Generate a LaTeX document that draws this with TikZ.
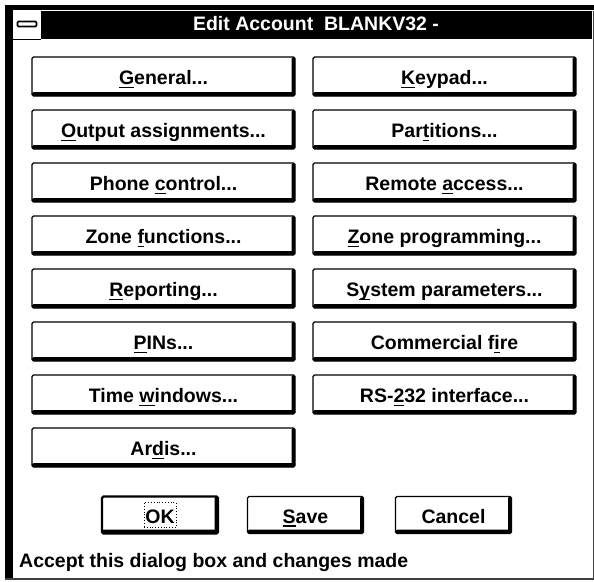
\documentclass[tikz,border=0pt]{standalone}
\usepackage{fontspec}
\setmainfont{Liberation Sans}
\usepackage{tikz}
\newcommand{\mnem}[1]{\setbox0\hbox{#1}\rlap{\rule[-3.5pt]{\wd0}{1.5pt}}#1}
\newcommand{\dlgfont}{\fontsize{19.5}{22}\selectfont\bfseries}

\begin{document}
\begin{tikzpicture}[x=1pt, y=-1pt,
    button/.style={draw, line width=1.2pt, rounded corners=1.5pt, fill=white,
        minimum width=263pt, minimum height=39pt, inner sep=0pt,
        text height=16pt, text depth=0pt, font=\dlgfont,
        path picture={
            \fill[black] (path picture bounding box.north east) ++(-3.5pt,0) rectangle (path picture bounding box.south east);
            \fill[black] (path picture bounding box.south west) ++(0,4pt) rectangle (path picture bounding box.south east);
        }},
    smallbutton/.style={button, minimum width=116pt, minimum height=37pt},
    focusbox/.style={draw, dotted, line width=0.8pt, minimum width=32pt, minimum height=25pt,
        inner sep=0pt, text height=16pt, text depth=0pt, font=\dlgfont}]
    \useasboundingbox (0,0) rectangle (594,581);

    % Window frame
    \fill (5,5) rectangle (594,10);
    \fill (5,5) rectangle (12.5,579);
    \fill[black!75] (592.5,11) rectangle (594,579.5);
    \fill[black!75] (5,577.5) rectangle (594,579.5);

    % Title bar and system menu
    \fill (41,11) rectangle (592,39);
    \draw[line width=1pt] (13,39) -- (41,39);
    \draw[line width=1.6pt, rounded corners=1pt, fill=white] (17.5,21.5) rectangle (36.5,26.5);
    \node[font=\dlgfont, text=white, anchor=base, inner sep=0pt] (title) at (316,30) {Edit Account\ \ BLANKV32 -};

    % Left column
    \node[button] (general) at (163.5,76.5) {\mnem{G}eneral...};
    \node[button] (output) at (163.5,129.5) {\mnem{O}utput assignments...};
    \node[button] (phone) at (163.5,182.5) {Phone \mnem{c}ontrol...};
    \node[button] (zonefn) at (163.5,235.5) {Zone \mnem{f}unctions...};
    \node[button] (reporting) at (163.5,288.5) {\mnem{R}eporting...};
    \node[button] (pins) at (163.5,341.5) {\mnem{P}INs...};
    \node[button] (timewin) at (163.5,394.5) {Time \mnem{w}indows...};
    \node[button] (ardis) at (163.5,447.5) {Ar\mnem{d}is...};

    % Right column
    \node[button] (keypad) at (444.5,76.5) {\mnem{K}eypad...};
    \node[button] (partitions) at (444.5,129.5) {Par\mnem{t}itions...};
    \node[button] (remote) at (444.5,182.5) {Remote \mnem{a}ccess...};
    \node[button] (zoneprog) at (444.5,235.5) {\mnem{Z}one programming...};
    \node[button] (sysparam) at (444.5,288.5) {S\mnem{y}stem parameters...};
    \node[button] (commfire) at (444.5,341.5) {Commercial f\mnem{i}re};
    \node[button] (rs232) at (444.5,394.5) {RS-\mnem{2}32 interface...};

    % OK, Save, Cancel
    \node[smallbutton, line width=2.2pt] (ok) at (160,515) {};
    \node[focusbox] (okfocus) at (ok) {OK};
    \node[smallbutton] (save) at (305.5,515) {\mnem{S}ave};
    \node[smallbutton] (cancel) at (453.5,515) {Cancel};

    % Status line
    \node[font=\dlgfont, anchor=base west, inner sep=0pt] (status) at (19,567) {Accept this dialog box and changes made};
\end{tikzpicture}
\end{document}
